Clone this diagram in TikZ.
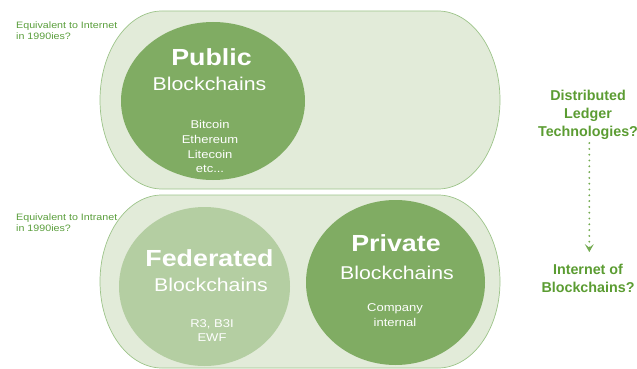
\documentclass[tikz,border=0pt]{standalone}
\usepackage{fontspec}
\setmainfont{Liberation Sans}
\newfontfamily\stf[FakeStretch=1.15]{Liberation Sans}
\usetikzlibrary{shapes.geometric,arrows.meta}
\definecolor{pillfill}{HTML}{E2EBD9}
\definecolor{pillline}{HTML}{9DC48A}
\definecolor{darkcirc}{HTML}{80AC63}
\definecolor{lightcirc}{HTML}{B4CEA2}
\definecolor{labgreen}{HTML}{5A9E3C}
\definecolor{rgreen}{HTML}{5B9C32}
\begin{document}
\begin{tikzpicture}[x=1pt,y=-1pt,
  pill/.style={fill=pillfill,draw=pillline,line width=0.7pt},
  circ/.style={ellipse,inner sep=0pt,draw=none},
  ctitle/.style={anchor=base,inner sep=0pt,text=white,font={\stf\bfseries\fontsize{23.3}{28}\selectfont}},
  csub/.style={anchor=base,inner sep=0pt,text=white,font={\stf\fontsize{18.5}{22}\selectfont}},
  clist/.style={anchor=base,inner sep=0pt,text=white,font={\stf\fontsize{11.3}{14}\selectfont}},
  leftlab/.style={anchor=base west,inner sep=0pt,text=labgreen,font={\stf\fontsize{9.3}{11}\selectfont}},
  rightlab/.style={inner sep=0pt,align=center,text=rgreen,font={\bfseries\fontsize{14.3}{18}\selectfont}},
  dotarrow/.style={draw=rgreen!85,line width=2.1pt,line cap=round,dash pattern=on 0pt off 5.8pt,
    -{Stealth[length=8pt,width=9pt,inset=3.5pt,line cap=butt]}}
]
\useasboundingbox (0,0) rectangle (637,369);
% pills
\draw[pill] (162,11) -- (438,11) arc[start angle=-90,end angle=90,x radius=62,y radius=89]
  -- (162,189) arc[start angle=90,end angle=270,x radius=62,y radius=89] -- cycle;
\draw[pill] (162,195) -- (438,195) arc[start angle=-90,end angle=90,x radius=62,y radius=86.5]
  -- (162,368) arc[start angle=90,end angle=270,x radius=62,y radius=86.5] -- cycle;
% circles
\node[circ,fill=darkcirc,minimum width=184pt,minimum height=158pt] (pub) at (213,101) {};
\node[circ,fill=lightcirc,minimum width=171pt,minimum height=159pt] (fed) at (204.5,286.5) {};
\node[circ,fill=darkcirc,minimum width=179pt,minimum height=165pt] (priv) at (395.5,282.5) {};
% public text
\node[ctitle] (pubT) at (211.5,66) {Public};
\node[csub] (pubB) at (209.5,90) {Blockchains};
\node[clist] (pub1) at (210,128.5) {Bitcoin};
\node[clist] (pub2) at (210,143.3) {Ethereum};
\node[clist] (pub3) at (210,158.1) {Litecoin};
\node[clist] (pub4) at (210,172.9) {etc...};
% federated text
\node[ctitle] (fedT) at (209.5,266) {Federated};
\node[csub] (fedB) at (211,291.7) {Blockchains};
\node[clist] (fed1) at (212,327.3) {R3, B3I};
\node[clist] (fed2) at (212,341.2) {EWF};
% private text
\node[ctitle] (privT) at (396,251.7) {Private};
\node[csub] (privB) at (397,279.3) {Blockchains};
\node[clist] (priv1) at (395,311.7) {Company};
\node[clist] (priv2) at (395,326.3) {internal};
% left labels
\node[leftlab] (inet1) at (16,29) {Equivalent to Internet};
\node[leftlab] (inet2) at (16,40) {in 1990ies?};
\node[leftlab] (intra1) at (16,220) {Equivalent to Intranet};
\node[leftlab] (intra2) at (16,231) {in 1990ies?};
% right labels
\node[rightlab,anchor=north] (dlt) at (588,90.3) {Distributed\\Ledger\\Technologies?};
\node[rightlab,anchor=north] (iob) at (588,263.6) {Internet of\\Blockchains?};
\draw[dotarrow,shorten <=3pt,shorten >=11.5pt] (dlt.south -| 589.3,0) -- (iob.north -| 589.3,0);
\end{tikzpicture}
\end{document}
